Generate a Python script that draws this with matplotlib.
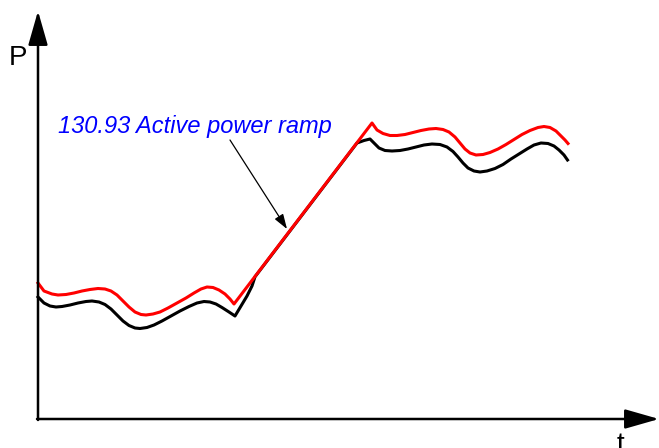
import matplotlib.pyplot as plt

# Curves (pixel coordinates, y grows downwards)
red_x = [38, 44, 52, 58, 66, 74, 82, 90, 98, 105, 111, 117, 123, 129, 135, 141, 146,
         153, 160, 168, 177, 186, 194, 201, 207, 213, 219, 225, 230, 234,
         372, 377, 383, 390, 397, 405, 413, 421, 429, 436, 443, 449, 455, 460, 465,
         470, 476, 483, 490, 498, 506, 514, 522, 530, 538, 544, 550, 556, 561, 565, 568]
red_y = [283, 291, 294, 295, 294.5, 293, 291, 289.5, 288.5, 289, 291, 295, 301, 307, 312,
         314.5, 315, 314, 312, 308, 303, 298, 293, 289, 287, 287.5, 290, 294, 299, 304,
         123, 130, 133.5, 135.5, 135.5, 134.5, 132.5, 130.5, 129, 128.5, 129.5, 132, 137,
         143, 149, 153, 155, 154.5, 152.5, 149, 144.5, 139.5, 134.5, 130.5, 127.5, 126.5,
         127.5, 131, 136, 140, 143.5]

black_x = [38, 44, 50, 56, 62, 70, 78, 86, 92, 99, 105, 111, 117, 123, 129, 135, 140,
           147, 154, 162, 171, 180, 189, 197, 204, 210, 216, 222, 229, 235,
           241, 247, 252, 255, 357, 364, 370, 374, 379, 385, 392, 400, 408, 416, 424,
           432, 440, 447, 453, 458, 463, 468, 474, 480, 487, 495, 503, 511, 519, 527,
           534, 541, 548, 554, 559, 564, 567.5]
black_y = [297, 303, 306, 307, 306.5, 305, 303, 301.5, 301, 302, 304.5, 309, 315, 321,
           325.5, 328, 328.5, 327.5, 325, 321, 316, 311, 306.5, 303, 301.5, 302, 304,
           307.5, 312, 316, 306, 296, 286, 276.8, 143, 140.5, 139, 143, 148, 150.5, 151,
           150.5, 149, 147, 145, 144, 144.5, 147, 151.5, 157, 163, 168, 171, 172, 171,
           168.5, 164.5, 159, 154, 149, 145, 143, 143.5, 146, 150, 155, 160]

label = '130.93 Active power ramp'

fig = plt.figure(figsize=(6.59, 4.48), dpi=100)
ax = fig.add_axes([0, 0, 1, 1])
ax.set_xlim(0, 659)
ax.set_ylim(448, 0)
ax.axis('off')

# axes with arrow heads
axis_style = dict(arrowstyle='-|>,head_length=2.1,head_width=0.6', color='black',
                  lw=1.8, shrinkA=0, shrinkB=0, mutation_scale=10)
ax.annotate('', xy=(38, 11), xytext=(38, 420), arrowprops=axis_style)
ax.annotate('', xy=(659, 419), xytext=(37, 419), arrowprops=axis_style)

ax.text(9, 65, 'P', fontsize=20, family='Liberation Sans', va='baseline')
ax.text(617, 452, 't', fontsize=20, family='Liberation Sans', va='baseline')

ax.plot(black_x, black_y, color='black', lw=2.2, solid_joinstyle='round')
ax.plot(red_x, red_y, color='red', lw=2.2, solid_joinstyle='round')

ax.annotate('', xy=(287, 229), xytext=(230, 140),
            arrowprops=dict(arrowstyle='-|>,head_length=0.9,head_width=0.3', color='black',
                            lw=0.9, shrinkA=0, shrinkB=0, mutation_scale=10))
ax.text(58, 133, label, fontsize=17, style='italic', color='#0000ff',
        family='Liberation Sans', va='baseline')

fig.savefig('out.png', dpi=100)
